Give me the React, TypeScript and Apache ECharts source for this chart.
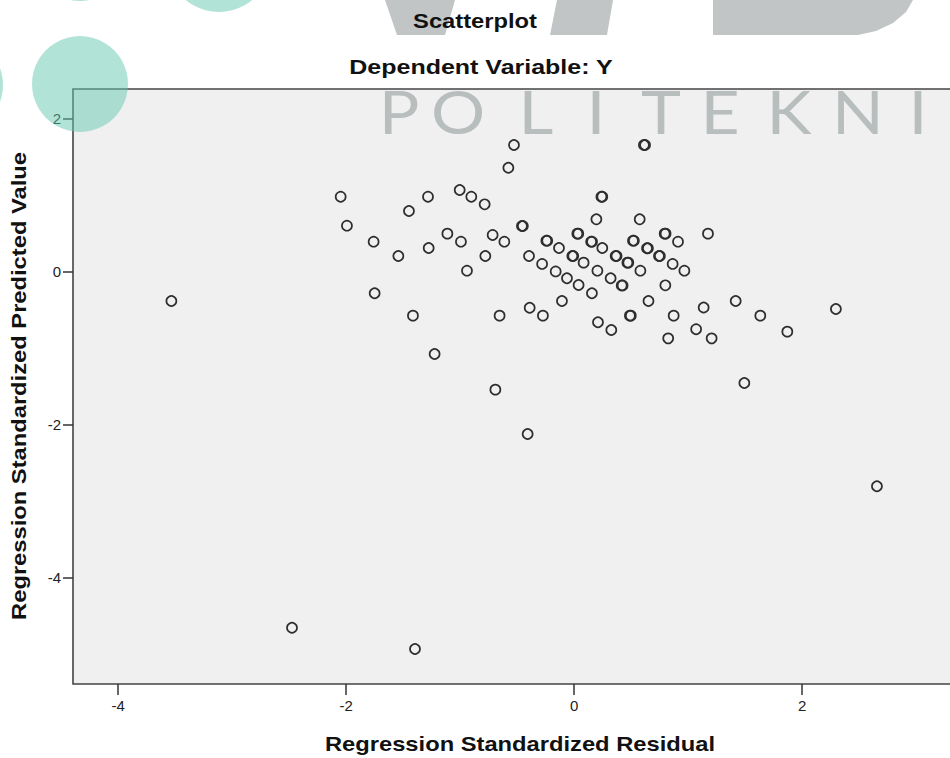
import React, { useEffect, useRef } from "react";
import * as echarts from "echarts";

// Regression standardized residual (x) and standardized predicted value (y)
const residual: number[] = [
  -0.528, 0.612, 0.622, -0.577, -2.048, -1.282, -1.004, -0.902, -0.785, 0.239, 0.247,
  -1.449, -1.993, -0.458, -0.450, 0.195, 0.575, -1.759, -1.112, -0.993, -0.715, -0.612,
  -0.244, -0.236, -0.133, 0.028, 0.036, 0.149, 0.157, 0.247, 0.516, 0.524, 0.639, 0.647,
  0.794, 0.802, 0.911, -1.542, -1.276, -0.779, -0.940, -0.396, -0.281, -0.162, -0.063,
  -0.016, -0.008, 0.083, 0.204, 0.039, 0.156, 0.320, 0.364, 0.372, 0.467, 0.475, 0.417,
  0.425, 0.581, 0.744, 0.752, 0.864, 0.967, 0.800, 0.652, 0.489, 0.497, 0.873, 0.825,
  1.136, 1.070, -1.750, -1.414, -0.654, -0.390, -0.274, -0.107, 0.209, 0.326, -1.224,
  1.206, 1.417, 1.633, 1.870, 2.296, 1.493, 2.656, -3.533, -0.691, -2.475, -1.396, -0.408,
  1.174,
];
const predicted: number[] = [
  1.656, 1.656, 1.656, 1.359, 0.980, 0.980, 1.068, 0.980, 0.881, 0.980, 0.980,
  0.793, 0.601, 0.597, 0.597, 0.685, 0.685, 0.392, 0.497, 0.392, 0.480, 0.392,
  0.405, 0.405, 0.310, 0.497, 0.497, 0.392, 0.392, 0.310, 0.405, 0.405, 0.306, 0.306,
  0.497, 0.497, 0.392, 0.205, 0.310, 0.205, 0.013, 0.205, 0.101, 0.003, -0.086,
  0.205, 0.205, 0.118, 0.013, -0.174, -0.282, -0.086, 0.205, 0.205, 0.118, 0.118, -0.180,
  -0.180, 0.013, 0.205, 0.205, 0.101, 0.013, -0.178, -0.383, -0.575, -0.575, -0.575, -0.871,
  -0.468, -0.752, -0.282, -0.575, -0.575, -0.471, -0.575, -0.383, -0.661, -0.762, -1.076,
  -0.871, -0.383, -0.575, -0.784, -0.488, -1.455, -2.805, -0.383, -1.542, -4.654, -4.932, -2.122,
  0.497,
];
const xTicks: number[] = [-4, -2, 0, 2];
const yTicks: number[] = [2, 0, -2, -4];
const watermarkLetters: string[] = ["P", "O", "L", "I", "T", "E", "K", "N", "I"];
const letterX: number[] = [399, 458, 536, 596, 661, 720, 789, 858, 918];

export default function App() {
  const ref = useRef<HTMLDivElement>(null);
  useEffect(() => {
    if (!ref.current) return;
    const chart = echarts.init(ref.current, null, { renderer: "svg" });
    const data = residual.map((v, i) => [v, predicted[i]]);
    const font = '"Liberation Sans", Arial, sans-serif';
    const teal = "rgba(100,200,175,0.5)";
    const logoGray = "#c1c5c5";
    const graphic: any[] = [
      { type: "polygon", z: 1, shape: { points: [[385, 0], [455, 0], [445, 35], [397, 35]] }, style: { fill: logoGray } },
      { type: "polygon", z: 1, shape: { points: [[557, 0], [613, 0], [607, 35], [550, 35]] }, style: { fill: logoGray } },
      { type: "polygon", z: 1, shape: { points: [[713, 0], [913, 0], [906, 12], [893, 23], [876, 31], [858, 35], [713, 35]] }, style: { fill: logoGray } },
      { type: "text", z: 10, x: 475, y: 21, scaleX: 1.13, style: { text: "Scatterplot", font: `bold 21px ${font}`, fill: "#111", textAlign: "center", textVerticalAlign: "middle" } },
      { type: "text", z: 10, x: 481, y: 67, scaleX: 1.19, style: { text: "Dependent Variable: Y", font: `bold 21px ${font}`, fill: "#111", textAlign: "center", textVerticalAlign: "middle" } },
      { type: "text", z: 10, x: 520, y: 744, scaleX: 1.13, style: { text: "Regression Standardized Residual", font: `bold 21px ${font}`, fill: "#111", textAlign: "center", textVerticalAlign: "middle" } },
      { type: "text", z: 10, x: 19, y: 386, rotation: Math.PI / 2, scaleX: 1.13, style: { text: "Regression Standardized Predicted Value", font: `bold 21px ${font}`, fill: "#111", textAlign: "center", textVerticalAlign: "middle" } },
      { type: "circle", z: 20, shape: { cx: 80, cy: 84, r: 48 }, style: { fill: teal } },
      { type: "circle", z: 20, shape: { cx: 80, cy: -46, r: 47 }, style: { fill: teal } },
      { type: "circle", z: 20, shape: { cx: 219, cy: -40, r: 52 }, style: { fill: teal } },
      { type: "circle", z: 20, shape: { cx: -45, cy: 85, r: 48 }, style: { fill: teal } },
    ];
    watermarkLetters.forEach((ch, i) => {
      graphic.push({
        type: "text", z: 15, x: letterX[i], y: 111, scaleX: 1.13,
        style: { text: ch, font: `400 60px Lato, "Noto Sans", sans-serif`, fill: "#b8bdbd", textAlign: "center", textVerticalAlign: "middle" },
      });
    });
    chart.setOption({
      animation: false,
      backgroundColor: "#ffffff",
      grid: {
        left: 73, top: 89, right: 23, bottom: 74,
        show: true, backgroundColor: "#f0f0f0", borderColor: "#444", borderWidth: 1.6,
      },
      xAxis: {
        type: "value", min: -4.396, max: 3.446,
        splitLine: { show: false },
        axisLine: { show: false, onZero: false },
        axisTick: { show: true, inside: false, length: 11, lineStyle: { color: "#333", width: 1.5 }, customValues: xTicks },
        axisLabel: { customValues: xTicks, fontSize: 15, color: "#222", fontFamily: font, margin: 14 },
      },
      yAxis: {
        type: "value", min: -5.3895, max: 2.388,
        splitLine: { show: false },
        axisLine: { show: false, onZero: false },
        axisTick: { show: true, inside: false, length: 10, lineStyle: { color: "#333", width: 1.5 }, customValues: yTicks },
        axisLabel: { customValues: yTicks, fontSize: 15, color: "#222", fontFamily: font, margin: 12 },
      },
      series: [
        {
          type: "scatter",
          data,
          symbol: "circle",
          symbolSize: 10,
          itemStyle: { color: "rgba(0,0,0,0)", borderColor: "#2e2e2e", borderWidth: 1.7, opacity: 1 },
          z: 5,
        },
      ],
      graphic,
    });
    return () => chart.dispose();
  }, []);
  return (
    <div style={{ position: "absolute", left: 0, top: 0, width: 950, height: 758, overflow: "hidden", background: "#fff" }}>
      <div ref={ref} style={{ width: 990, height: 758 }} />
    </div>
  );
}
